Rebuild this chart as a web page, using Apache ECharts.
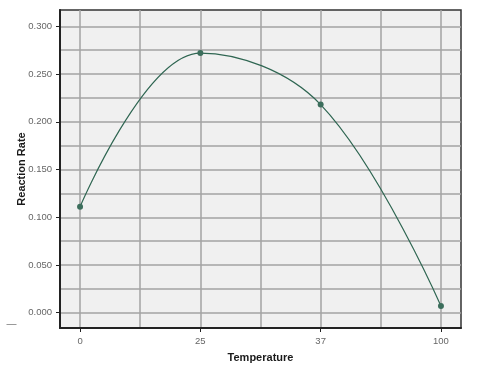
<!DOCTYPE html>
<html><head><meta charset="utf-8">
<script src="https://cdn.jsdelivr.net/npm/echarts@6/dist/echarts.min.js"></script>
<style>html,body{margin:0;padding:0;background:#fff}#c{width:500px;height:377px}</style>
</head><body><div id="c"></div>
<script>
const categories = ['0', '25', '37', '100'];
const reactionRate = [0.111, 0.272, 0.218, 0.007];
const yTickLabels = [0, 0.05, 0.10, 0.15, 0.20, 0.25, 0.30];
const yGridValues = [0, 0.025, 0.05, 0.075, 0.10, 0.125, 0.15, 0.175, 0.20, 0.225, 0.25, 0.275, 0.30];
const xGridValues = [0, 0.5, 1, 1.5, 2, 2.5, 3];
const xTickValues = [0, 1, 2, 3];

const X_MIN = -1 / 6, X_MAX = 3 + 1 / 6;
const Y_MIN = -0.016, Y_MAX = 0.3171;
const gridCol = '#a3a3a3';
const labelStyle = { color: '#666', fontSize: 9.5, fontFamily: 'Liberation Sans Narrow, Liberation Sans, Arial, sans-serif' };
const nameStyle = { color: '#1a1a1a', fontSize: 11, fontWeight: 'bold', fontFamily: 'Liberation Sans, Arial, sans-serif' };

const chart = echarts.init(document.getElementById('c'), null, { renderer: 'canvas' });
chart.setOption({
  animation: false,
  backgroundColor: '#fff',
  grid: { left: 60, top: 10, right: 39, bottom: 49, show: true, backgroundColor: '#f0f0f0', borderColor: '#333', borderWidth: 1.5 },
  xAxis: [
    {
      type: 'value', min: X_MIN, max: X_MAX,
      axisLine: { show: false },
      axisTick: { show: false, customValues: xGridValues },
      axisLabel: { show: false },
      splitLine: { show: true, lineStyle: { color: gridCol, width: 1.5 } }
    },
    {
      type: 'value', min: X_MIN, max: X_MAX, position: 'bottom',
      name: 'Temperature', nameLocation: 'middle', nameGap: 24, nameTextStyle: nameStyle,
      axisLine: { show: true, onZero: false, lineStyle: { color: '#222', width: 2 } },
      axisTick: { show: true, customValues: xTickValues, length: 4, lineStyle: { color: '#222' } },
      axisLabel: { customValues: xTickValues, margin: 8, formatter: v => categories[Math.round(v)], ...labelStyle },
      splitLine: { show: false }
    }
  ],
  yAxis: [
    {
      type: 'value', min: Y_MIN, max: Y_MAX,
      axisLine: { show: false },
      axisTick: { show: false, customValues: yGridValues },
      axisLabel: { show: false },
      splitLine: { show: true, lineStyle: { color: gridCol, width: 1.5 } }
    },
    {
      type: 'value', min: Y_MIN, max: Y_MAX, position: 'left',
      name: 'Reaction Rate', nameLocation: 'middle', nameGap: 33, nameRotate: 90, nameMoveOverlap: false, nameTextStyle: nameStyle,
      axisLine: { show: true, onZero: false, lineStyle: { color: '#222', width: 2 } },
      axisTick: { show: true, customValues: yTickLabels, length: 4, lineStyle: { color: '#222' } },
      axisLabel: { customValues: yTickLabels, margin: 8, formatter: v => v.toFixed(3), ...labelStyle },
      splitLine: { show: false }
    }
  ],
  graphic: [
    { type: 'line', left: 4, top: 322, shape: { x1: 0, y1: 0, x2: 10, y2: 0 }, style: { stroke: '#999', lineWidth: 1 } }
  ],
  series: [{
    type: 'line',
    xAxisIndex: 0, yAxisIndex: 0,
    data: reactionRate.map((v, i) => [i, v]),
    smooth: 0.38,
    symbol: 'circle', symbolSize: 6,
    lineStyle: { color: '#2f6652', width: 1.2 },
    itemStyle: { color: '#3c6e5c' }
  }]
});
</script></body></html>
